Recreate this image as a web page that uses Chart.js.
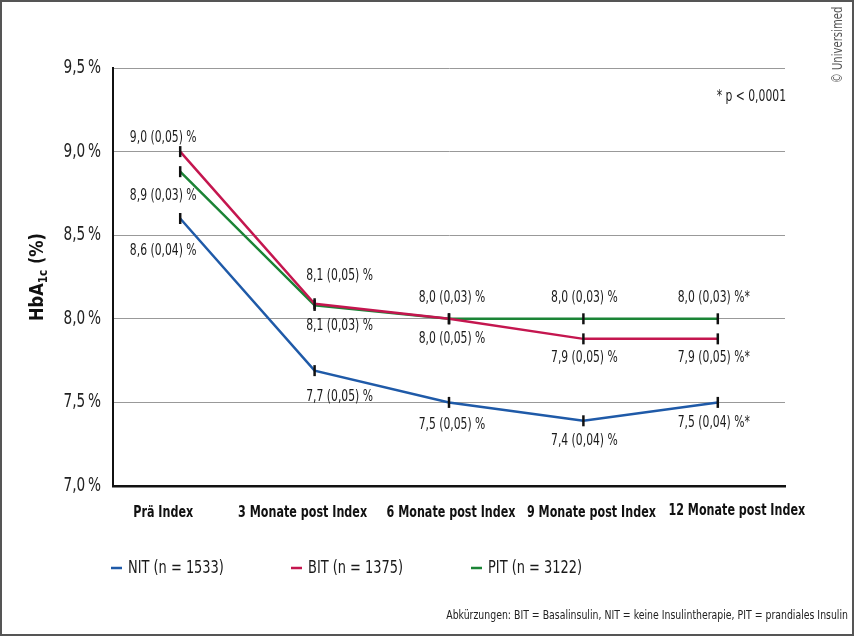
<!DOCTYPE html>
<html>
<head>
<meta charset="utf-8">
<script src="https://cdn.jsdelivr.net/npm/chart.js@4/dist/chart.umd.min.js"></script>
<style>
  html, body { margin: 0; padding: 0; background: #fff; }
  #wrap { width: 854px; height: 636px; position: relative; }
</style>
</head>
<body>
<div id="wrap"><canvas id="Chart"></canvas></div>
<script>
// Daten
var zeitpunkte = ['Prä Index', '3 Monate post Index', '6 Monate post Index', '9 Monate post Index', '12 Monate post Index'];
var serien = ['NIT (n = 1533)', 'BIT (n = 1375)', 'PIT (n = 3122)'];
var nit = [8.60, 7.69, 7.50, 7.39, 7.50];
var bit = [9.00, 8.09, 8.00, 7.88, 7.88];
var pit = [8.88, 8.08, 8.00, 8.00, 8.00];
var nitText = ['8,6 (0,04) %', '7,7 (0,05) %', '7,5 (0,05) %', '7,4 (0,04) %', '7,5 (0,04) %*'];
var bitText = ['9,0 (0,05) %', '8,1 (0,05) %', '8,0 (0,05) %', '7,9 (0,05) %', '7,9 (0,05) %*'];
var pitText = ['8,9 (0,03) %', '8,1 (0,03) %', '8,0 (0,03) %', '8,0 (0,03) %', '8,0 (0,03) %*'];
var yTicks = [7.0, 7.5, 8.0, 8.5, 9.0, 9.5];

var farben = ['#1f5aa8', '#c4164f', '#1b8436'];
var schrift = '"Liberation Sans Narrow", "DejaVu Sans Condensed", "Roboto", sans-serif';
var schmal = 0.8; // DejaVu Condensed noch etwas schmaler machen

/* Position der Beschriftungen relativ zum Punkt (dx, dy) */
var labelPos = [
  [[-17, 33], [25, 26], [3, 23], [1, 20], [-4, 21]],
  [[-17, -13], [25, -28], [3, 20], [1, 19], [-4, 19]],
  [[-17, 24], [25, 21], [3, -21], [1, -21], [-4, -21]]
];
var labelTexte = [nitText, bitText, pitText];
var tickVersatz = [-17, -12, 2, 8, 19];

function text(c, t, x, y, align){
  c.save();
  c.translate(x, y);
  c.scale(schmal, 1);
  c.textAlign = align || 'left';
  c.fillText(t, 0, 0);
  c.restore();
}

var extras = {
  id: 'extras',
  afterDatasetsDraw: function(chart){
    var c = chart.ctx;
    var x = chart.scales.x, y = chart.scales.y;
    c.save();
    c.fillStyle = '#1a1a1a';
    c.font = '15px ' + schrift;
    c.textBaseline = 'middle';
    chart.data.datasets.forEach(function(ds, i){
      ds.data.forEach(function(v, j){
        var px = x.getPixelForValue(j) + labelPos[i][j][0];
        var py = y.getPixelForValue(v) + labelPos[i][j][1];
        text(c, labelTexte[i][j], px, py, 'center');
      });
    });
    c.restore();
  },
  afterDraw: function(chart){
    var c = chart.ctx;
    var ca = chart.chartArea;
    var x = chart.scales.x, y = chart.scales.y;
    c.save();
    // Rahmen
    c.strokeStyle = '#555';
    c.lineWidth = 2;
    c.strokeRect(1, 1, 852, 634);

    // Achsenbeschriftungen
    c.textBaseline = 'middle';
    c.fillStyle = '#222';
    c.font = '19px ' + schrift;
    y.ticks.forEach(function(t){
      text(c, t.value.toFixed(1).replace('.', ',') + '\u2009%', 101, y.getPixelForValue(t.value), 'right');
    });
    c.fillStyle = '#111';
    c.font = 'bold 15.5px ' + schrift;
    chart.data.labels.forEach(function(l, j){
      text(c, l, x.getPixelForValue(j) + tickVersatz[j], ca.bottom + 27 - (j == 4 ? 2 : 0), 'center');
    });

    // y-Achsentitel HbA1c (%)
    c.save();
    c.translate(38, (ca.top + ca.bottom) / 2);
    c.rotate(-Math.PI / 2);
    c.scale(0.9, 1);
    c.fillStyle = '#111';
    c.font = 'bold 20px ' + schrift;
    var w1 = c.measureText('HbA').width;
    c.font = 'bold 13px ' + schrift;
    var w2 = c.measureText('1c').width;
    c.font = 'bold 20px ' + schrift;
    var w3 = c.measureText(' (%)').width;
    var sx = -(w1 + w2 + w3) / 2;
    c.textAlign = 'left';
    c.fillText('HbA', sx, 0);
    c.font = 'bold 13px ' + schrift;
    c.fillText('1c', sx + w1, 6);
    c.font = 'bold 20px ' + schrift;
    c.fillText(' (%)', sx + w1 + w2, 0);
    c.restore();

    // Legende
    c.font = '18px ' + schrift;
    chart.data.datasets.forEach(function(ds, i){
      var lx = 111 + i * 180, ly = 568;
      c.strokeStyle = ds.borderColor;
      c.lineWidth = 2.5;
      c.beginPath();
      c.moveTo(lx, ly);
      c.lineTo(lx + 11, ly);
      c.stroke();
      c.fillStyle = '#1a1a1a';
      text(c, ds.label, lx + 17, ly, 'left');
    });

    // p-Wert
    c.font = '15px ' + schrift;
    text(c, '* p < 0,0001', 786, 97, 'right');

    // Fußnote
    c.font = '13px ' + schrift;
    c.fillStyle = '#222';
    text(c, 'Abkürzungen: BIT = Basalinsulin, NIT = keine Insulintherapie, PIT = prandiales Insulin', 848, 616, 'right');

    // Copyright
    c.translate(838, 45);
    c.rotate(-Math.PI / 2);
    c.fillStyle = '#555';
    c.font = '14px ' + schrift;
    text(c, '© Universimed', 0, 0, 'center');
    c.restore();
  }
};

var datasets = [nit, bit, pit].map(function(werte, i){
  return {
    label: serien[i],
    data: werte,
    borderColor: farben[i],
    backgroundColor: farben[i],
    borderWidth: 2.5,
    tension: 0,
    pointStyle: 'line',
    rotation: 90,
    pointRadius: 5.5,
    pointHoverRadius: 5.5,
    pointBorderColor: '#111',
    pointBorderWidth: 2.5
  };
});

var ctx = document.getElementById('Chart');
var chart = new Chart(ctx, {
  type: 'line',
  data: { labels: zeitpunkte, datasets: datasets },
  plugins: [extras],
  options: {
    responsive: true,
    maintainAspectRatio: false,
    animation: false,
    layout: { padding: { left: 0, top: 68, right: 69, bottom: 110 } },
    plugins: { legend: { display: false }, tooltip: { enabled: false } },
    scales: {
      x: {
        offset: true,
        grid: { display: false, drawTicks: false },
        border: { display: true, color: '#111', width: 2.5 },
        ticks: { display: false },
        afterFit: function(s){ s.height = 40; }
      },
      y: {
        min: 7, max: 9.5,
        afterBuildTicks: function(s){ s.ticks = yTicks.map(function(v){ return { value: v }; }); },
        grid: { color: '#999', lineWidth: 1, drawTicks: false },
        border: { display: true, color: '#111', width: 2 },
        ticks: { display: false },
        afterFit: function(s){ s.width = 113; }
      }
    }
  }
});
</script>
</body>
</html>
